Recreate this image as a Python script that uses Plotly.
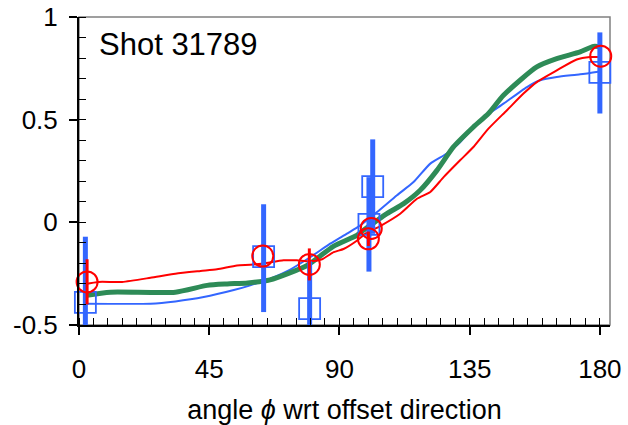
import plotly.graph_objects as go

# Measured points (squares) with error bars
blue_x = [2.2, 63.8, 79.7, 100.2, 101.5, 180.0]
blue_y = [-0.39, -0.167, -0.42, -0.01, 0.174, 0.73]
blue_err_plus = [0.32, 0.255, 0.23, 0.23, 0.23, 0.195]
blue_err_minus = [0.22, 0.27, 0.19, 0.23, 0.23, 0.20]

# Measured points (circles) with error bars
red_x = [2.8, 63.5, 79.6, 100.0, 101.0, 180.3]
red_y = [-0.29, -0.164, -0.205, -0.08, -0.03, 0.809]
red_err = [0.11, 0.0, 0.078, 0.035, 0.0, 0.0]

# Model curves
green_x = [2.2, 10.9, 33.3, 44.3, 51.2, 58.3, 66, 78.8, 87.9, 96, 98.3, 106.4, 112.2,
           117.9, 123.7, 129.4, 136.3, 141.5, 146.7, 158.2, 165.1, 173.2, 177.8, 180.5]
green_y = [-0.356, -0.34, -0.34, -0.307, -0.30, -0.295, -0.28, -0.21, -0.117, -0.063,
           -0.039, 0.042, 0.091, 0.156, 0.253, 0.367, 0.464, 0.53, 0.619, 0.757, 0.797,
           0.83, 0.857, 0.855]

red_line_x = [2.2, 6.8, 14.9, 24.7, 33.3, 42, 47.7, 54.6, 59.2, 63.8, 70.7, 75.3, 79.6,
              84, 88, 91.4, 96, 99, 104.1, 111, 116.8, 121.4, 126, 131.7, 136.3, 141.5,
              147.9, 153.6, 158.2, 165.1, 172, 176.6, 180.6]
red_line_y = [-0.30, -0.29, -0.29, -0.27, -0.25, -0.237, -0.229, -0.21, -0.207, -0.2,
              -0.185, -0.185, -0.19, -0.18, -0.145, -0.13, -0.09, -0.055, -0.018, 0.042,
              0.115, 0.148, 0.22, 0.302, 0.367, 0.456, 0.546, 0.627, 0.683, 0.74, 0.793,
              0.805, 0.805]

blue_line_x = [2.2, 24.7, 33.3, 43.1, 53.5, 59.2, 66.1, 73, 80, 86.8, 92.6, 97.2, 103,
               109.9, 115.6, 121.4, 127.1, 131.7, 138.6, 146.7, 154.8, 159.4, 165.1,
               173.2, 180]
blue_line_y = [-0.396, -0.396, -0.385, -0.364, -0.33, -0.307, -0.274, -0.23, -0.169,
               -0.104, -0.055, -0.015, 0.05, 0.132, 0.196, 0.286, 0.335, 0.39, 0.497,
               0.578, 0.659, 0.692, 0.708, 0.721, 0.735]

x_ticks = [0, 45, 90, 135, 180]
y_ticks = [-0.5, 0, 0.5, 1]
y_tick_text = ["-0.5", "0", "0.5", "1"]

BLUE = "#3366FF"
RED = "#FF0000"
GREEN = "#2E8B57"
FONT = "Liberation Sans, Arial, sans-serif"

fig = go.Figure()

fig.add_trace(go.Scatter(x=blue_line_x, y=blue_line_y, mode="lines",
                         line=dict(color=BLUE, width=2, shape="spline", smoothing=0.6),
                         hoverinfo="skip"))
fig.add_trace(go.Scatter(x=green_x, y=green_y, mode="lines",
                         line=dict(color=GREEN, width=5, shape="spline", smoothing=0.6),
                         hoverinfo="skip"))
fig.add_trace(go.Scatter(x=red_line_x, y=red_line_y, mode="lines",
                         line=dict(color=RED, width=2, shape="spline", smoothing=0.6),
                         hoverinfo="skip"))

fig.add_trace(go.Scatter(
    x=blue_x, y=blue_y, mode="markers", cliponaxis=False,
    marker=dict(symbol="square-open", size=21, color=BLUE, line=dict(color=BLUE, width=1.8)),
    error_y=dict(type="data", symmetric=False, array=blue_err_plus,
                 arrayminus=blue_err_minus, color=BLUE, thickness=5, width=0),
))
fig.add_trace(go.Scatter(
    x=red_x, y=red_y, mode="markers", cliponaxis=False,
    marker=dict(symbol="circle-open", size=21, color=RED, line=dict(color=RED, width=2)),
    error_y=dict(type="data", array=red_err, color=RED, thickness=3, width=0),
))

fig.add_annotation(x=6.3, y=0.868, xref="x", yref="y", text="Shot 31789",
                   showarrow=False, xanchor="left", yanchor="middle",
                   font=dict(family=FONT, size=31, color="black"))

# plot frame
fig.add_shape(type="rect", xref="paper", yref="paper", x0=0, y0=0, x1=1, y1=1,
              line=dict(color="#808080", width=1.5), layer="below")

fig.update_layout(
    width=628, height=425,
    margin=dict(l=79, r=18, t=17, b=100),
    paper_bgcolor="white", plot_bgcolor="white",
    showlegend=False,
    font=dict(family=FONT, size=26, color="black"),
    xaxis=dict(
        range=[0, 183.5], tickvals=x_ticks, ticks="outside", ticklen=8,
        tickwidth=1.5, tickcolor="black", ticklabelstandoff=12, automargin=False,
        minor=dict(dtick=5, tick0=0, ticks="inside", ticklen=7, tickwidth=1, tickcolor="black"),
        showgrid=False, zeroline=False, showline=True, linecolor="black", linewidth=2,
        title=dict(text="angle <i>ϕ</i> wrt offset direction", font=dict(size=27), standoff=17),
    ),
    yaxis=dict(
        range=[-0.5, 1], tickvals=y_ticks, ticktext=y_tick_text, ticks="outside",
        ticklen=8, tickwidth=1.5, tickcolor="black", ticklabelstandoff=6, automargin=False,
        minor=dict(dtick=0.1, tick0=0, ticks="inside", ticklen=7, tickwidth=1, tickcolor="black"),
        showgrid=False, zeroline=False, showline=True, linecolor="black", linewidth=2,
    ),
)

fig.write_html("out.html")
